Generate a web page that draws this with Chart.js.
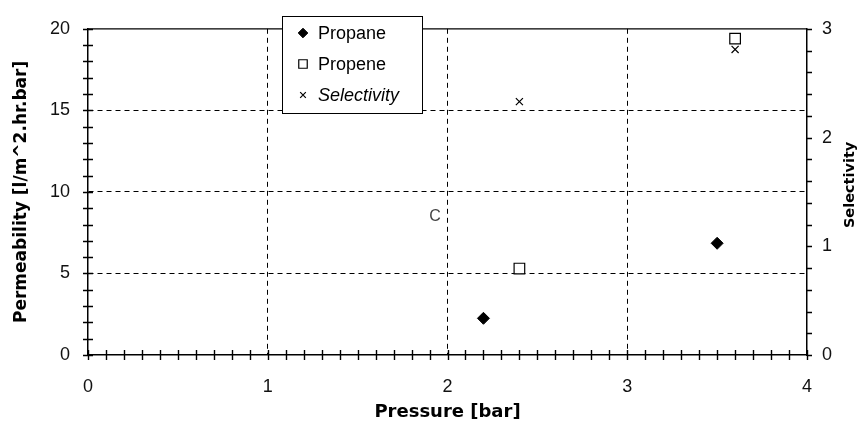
<!DOCTYPE html>
<html>
<head>
<meta charset="utf-8">
<script src="https://cdn.jsdelivr.net/npm/chart.js@4/dist/chart.umd.min.js"></script>
<style>
  html, body { margin: 0; padding: 0; background: #fff; }
  #wrap { width: 862px; height: 425px; position: relative; }
</style>
</head>
<body>
<div id="wrap"><canvas id="permChart"></canvas></div>
<script>
// data
const propanePressure = [2.2, 3.5];
const propanePerm = [2.25, 6.85];
const propenePressure = [2.4, 3.6];
const propenePerm = [5.3, 19.4];
const selectPressure = [2.4, 3.6];
const selectValue = [2.33, 2.81];
const seriesNames = ['Propane', 'Propene', 'Selectivity'];
// stray mark in the scan
const noteX = [1.93];
const noteY = [8.5];
const noteText = ['C'];

const tickFont = { family: 'Liberation Sans, Arial, sans-serif', size: 18 };
const titleFont = { family: 'DejaVu Sans, sans-serif', size: 17, weight: 'bold' };

function toPoints(xs, ys) {
    return xs.map((x, i) => ({ x: x, y: ys[i] }));
}
function isWhole(v) {
    return Math.abs(v - Math.round(v)) < 1e-6;
}

const frame = {
    id: 'frame',
    afterDraw(chart) {
        const ctx = chart.ctx;
        const a = chart.chartArea;
        const sx = chart.scales.x, sy = chart.scales.y, sy2 = chart.scales.y2;
        ctx.save();
        ctx.strokeStyle = '#000';
        ctx.lineWidth = 1.3;
        // top edge
        ctx.beginPath();
        ctx.moveTo(a.left, a.top);
        ctx.lineTo(a.right, a.top);
        ctx.stroke();
        // tick marks
        ctx.lineWidth = 1.4;
        ctx.beginPath();
        sx.ticks.forEach(t => {
            const p = Math.round(sx.getPixelForValue(t.value)) + 0.5;
            ctx.moveTo(p, a.bottom - 5);
            ctx.lineTo(p, a.bottom + 5);
        });
        sy.ticks.forEach(t => {
            const p = Math.round(sy.getPixelForValue(t.value)) + 0.5;
            ctx.moveTo(a.left - 5, p);
            ctx.lineTo(a.left + 5, p);
        });
        sy2.ticks.forEach(t => {
            const p = Math.round(sy2.getPixelForValue(t.value)) + 0.5;
            ctx.moveTo(a.right, p);
            ctx.lineTo(a.right + 5, p);
        });
        ctx.stroke();

        // stray note
        ctx.fillStyle = '#444';
        ctx.font = '16px Liberation Sans, Arial, sans-serif';
        ctx.textAlign = 'center';
        ctx.textBaseline = 'middle';
        noteText.forEach((s, i) => {
            ctx.fillText(s, sx.getPixelForValue(noteX[i]), sy.getPixelForValue(noteY[i]));
        });

        // right axis title, reads bottom to top
        ctx.fillStyle = '#000';
        ctx.font = 'bold 14.5px DejaVu Sans, sans-serif';
        ctx.translate(850, (a.top + a.bottom) / 2 - 7);
        ctx.rotate(-Math.PI / 2);
        ctx.fillText('Selectivity', 0, 0);
        ctx.restore();

        // legend box
        ctx.save();
        const bx = 282, by = 16, bw = 140, bh = 97;
        ctx.fillStyle = '#fff';
        ctx.fillRect(bx, by, bw, bh);
        ctx.strokeStyle = '#000';
        ctx.lineWidth = 1;
        ctx.strokeRect(bx + 0.5, by + 0.5, bw, bh);
        ctx.textAlign = 'left';
        ctx.textBaseline = 'middle';
        chart.data.datasets.forEach((ds, i) => {
            const yy = by + 17 + i * 31;
            ctx.fillStyle = ds.backgroundColor;
            ctx.strokeStyle = ds.borderColor;
            ctx.lineWidth = ds.borderWidth;
            Chart.helpers.drawPoint(ctx, {
                pointStyle: ds.pointStyle, radius: ds.pointRadius * 0.8,
                rotation: 0, borderWidth: ds.borderWidth
            }, 303, yy);
            ctx.fillStyle = '#000';
            ctx.font = (i === 2 ? 'italic ' : '') + '18px Liberation Sans, Arial, sans-serif';
            ctx.fillText(ds.label, 318, yy + 1);
        });
        ctx.restore();
    }
};

const ctx = document.getElementById('permChart').getContext('2d');
new Chart(ctx, {
    type: 'scatter',
    data: {
        datasets: [{
            label: seriesNames[0],
            data: toPoints(propanePressure, propanePerm),
            yAxisID: 'y',
            pointStyle: 'rectRot',
            pointRadius: 6,
            backgroundColor: '#000',
            borderColor: '#000',
            borderWidth: 1
        }, {
            label: seriesNames[1],
            data: toPoints(propenePressure, propenePerm),
            yAxisID: 'y',
            pointStyle: 'rect',
            pointRadius: 7.5,
            backgroundColor: '#fff',
            borderColor: '#000',
            borderWidth: 1.2
        }, {
            label: seriesNames[2],
            data: toPoints(selectPressure, selectValue),
            yAxisID: 'y2',
            pointStyle: 'crossRot',
            pointRadius: 5,
            backgroundColor: '#000',
            borderColor: '#000',
            borderWidth: 1.2
        }]
    },
    options: {
        responsive: true,
        maintainAspectRatio: false,
        animation: false,
        layout: { padding: { top: 19, left: 0, right: 0, bottom: 0 } },
        plugins: { legend: { display: false }, tooltip: { enabled: false } },
        scales: {
            x: {
                type: 'linear', min: 0, max: 4,
                afterFit: s => { s.height = 70; },
                ticks: {
                    stepSize: 0.1, maxTicksLimit: 100, autoSkip: false, maxRotation: 0,
                    padding: 21, color: '#111', font: tickFont,
                    callback: v => isWhole(v) ? String(Math.round(v)) : ''
                },
                grid: {
                    drawTicks: false,
                    color: c => (c.tick && isWhole(c.tick.value) && c.tick.value > 0 && c.tick.value < 4) ? '#000' : 'rgba(0,0,0,0)',
                    lineWidth: 1
                },
                border: { display: true, color: '#000', width: 1.5, dash: [5, 4] },
                title: { display: true, text: 'Pressure [bar]', color: '#000', font: { ...titleFont, size: 18 }, padding: { top: 0, bottom: 2 } }
            },
            y: {
                type: 'linear', position: 'left', min: 0, max: 20,
                afterFit: s => { s.width = 88; },
                ticks: {
                    stepSize: 1, maxTicksLimit: 100, autoSkip: false,
                    padding: 18, color: '#111', font: tickFont,
                    callback: v => v % 5 === 0 ? String(v) : ''
                },
                grid: {
                    drawTicks: false,
                    color: c => (c.tick && c.tick.value % 5 === 0 && c.tick.value > 0 && c.tick.value < 20) ? '#000' : 'rgba(0,0,0,0)',
                    lineWidth: 1
                },
                border: { display: true, color: '#000', width: 1.5, dash: [5, 4] },
                title: { display: true, text: 'Permeability [l/m^2.hr.bar]', color: '#000', font: titleFont, padding: { top: 11, bottom: 0 } }
            },
            y2: {
                type: 'linear', position: 'right', min: 0, max: 3,
                afterFit: s => { s.width = 55; },
                ticks: {
                    stepSize: 0.2, maxTicksLimit: 100, autoSkip: false,
                    padding: 15, color: '#111', font: tickFont,
                    callback: v => isWhole(v) ? String(Math.round(v)) : ''
                },
                grid: { display: false, drawTicks: false },
                border: { display: true, color: '#000', width: 1.5 }
            }
        }
    },
    plugins: [frame]
});
</script>
</body>
</html>
